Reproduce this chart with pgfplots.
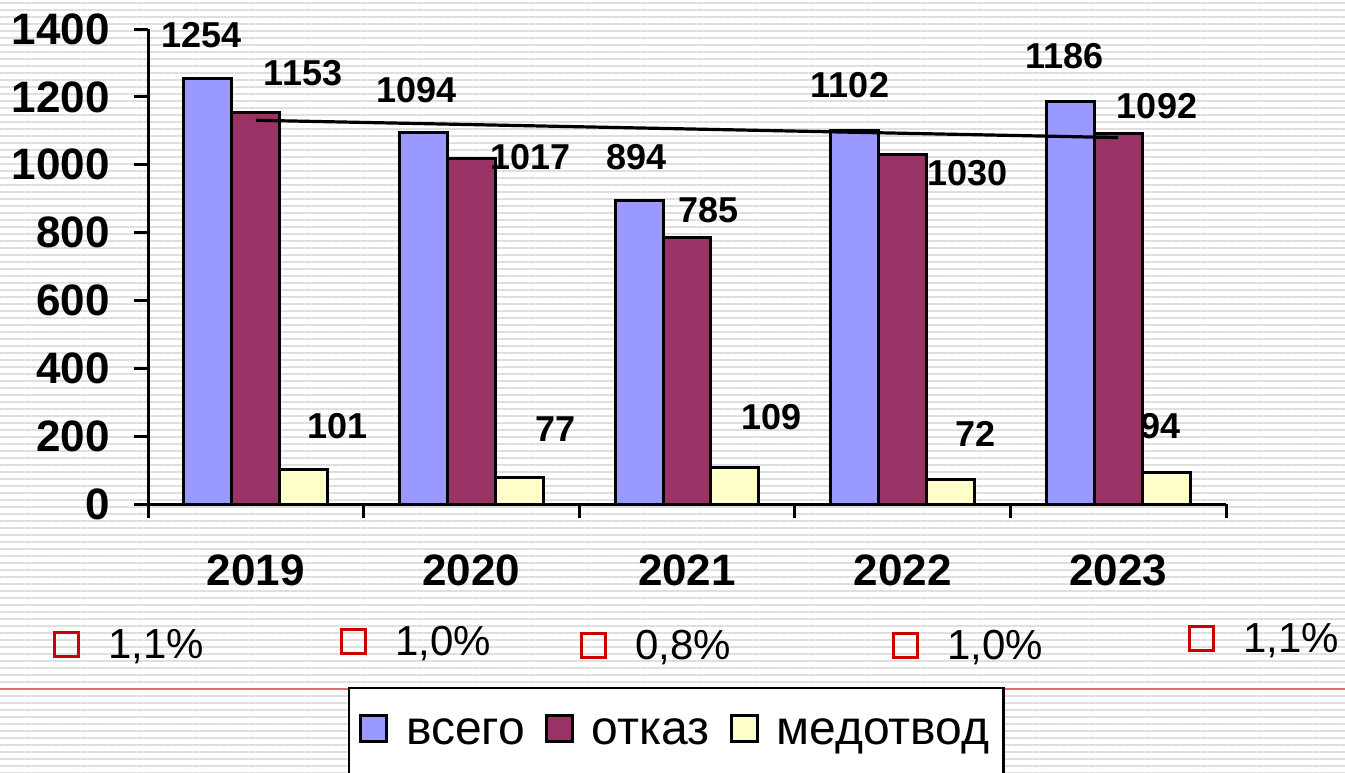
\documentclass[border=0pt]{standalone}
\usepackage{fontspec}
\setmainfont{Liberation Sans}
\usepackage{pgfplots}
\usepackage{pgfplotstable}
\pgfplotsset{compat=1.18}
\usetikzlibrary{patterns.meta}
\definecolor{cblue}{RGB}{153,153,255}
\definecolor{cmaroon}{RGB}{153,51,102}
\definecolor{cyellow}{RGB}{255,255,204}
\definecolor{cred}{RGB}{204,0,0}
\definecolor{stripe}{RGB}{222,222,222}
\definecolor{redline}{RGB}{224,110,110}
\newcommand{\redsq}{\raisebox{1.4bp}{\color{cred}\setlength{\fboxrule}{1.4bp}\setlength{\fboxsep}{0pt}\fbox{\rule{0pt}{10.6bp}\rule{10.6bp}{0pt}}}}
\newcommand{\pct}[1]{\redsq\hspace{14bp}#1}

\pgfplotstableread{
x vsego otkaz medotvod
0 1254 1153 101
1 1094 1017 77
2 894 785 109
3 1102 1030 72
4 1186 1092 94
}\bars

\pgfplotstableread{
x y lab
-0.250 1382 1254
0.745 1220 1094
1.764 1021 894
2.756 1235 1102
3.751 1320 1186
}\labA

\pgfplotstableread{
x y lab
0.219 1270 1153
1.276 1021 1017
2.102 865 785
3.303 974 1030
4.180 1173 1092
}\labB

\pgfplotstableread{
x y lab
0.377 230 101
1.388 221 77
2.394 255 109
3.340 206 72
4.198 230 94
}\labC

\pgfplotsset{
  vallab/.style={only marks, mark=*, mark size=0pt, draw=none, fill=none, forget plot,
    nodes near coords, point meta=explicit symbolic,
    nodes near coords style={anchor=center, inner sep=0pt, text=black,
      font=\bfseries\fontsize{18bp}{18bp}\selectfont}},
  sqleg/.style={legend image code/.code={\draw[##1] (0bp,-4.5bp) rectangle (13bp,8.5bp);}},
}

\begin{document}
\begin{tikzpicture}
\path[use as bounding box] (0,0) rectangle (672.5bp,-386.5bp);
\fill[white] (0,0) rectangle (672.5bp,-386.5bp);
\fill[pattern={Lines[angle=0,distance=3.5bp,line width=1bp]}, pattern color=stripe] (0,0) rectangle (672.5bp,-386.5bp);
\draw[redline, line width=0.7bp] (0,-344.5bp) -- (672.5bp,-344.5bp);

\begin{scope}[every node/.style={inner sep=0pt, anchor=base west, font=\fontsize{21bp}{21bp}\selectfont}]
\node at (26.5bp,-329bp) {\pct{1,1\%}};
\node at (170bp,-327.5bp) {\pct{1,0\%}};
\node at (290bp,-329.5bp) {\pct{0,8\%}};
\node at (446bp,-329.5bp) {\pct{1,0\%}};
\node at (594bp,-326bp) {\pct{1,1\%}};
\end{scope}

\begin{axis}[
  at={(74bp,-252bp)}, anchor=south west,
  scale only axis, width=539bp, height=237.5bp,
  xmin=-0.5, xmax=4.5, ymin=0, ymax=1400,
  clip=false,
  axis x line=bottom, axis y line=left,
  axis line style={-, line width=1.5bp, black},
  xtick={-0.5,0.5,1.5,2.5,3.5,4.5}, xticklabels={},
  extra x ticks={0,1,2,3,4},
  extra x tick labels={2019,2020,2021,2022,2023},
  extra x tick style={major tick length=0pt,
     tick label style={anchor=center, inner sep=0pt, yshift=-33bp}},
  ytick={0,200,...,1400},
  tick align=outside, major tick length=7bp,
  tick style={line width=1.5bp, black},
  /pgf/number format/assume math mode=true,
  /pgf/number format/1000 sep={},
  ticklabel style={font=\bfseries\fontsize{22bp}{22bp}\selectfont},
  yticklabel style={anchor=east, inner sep=0pt, xshift=-12bp},
  legend columns=3,
  legend style={at={(axis description cs:0.1855,-0.3853)}, anchor=north west,
     draw=black, line width=1.1bp, fill=white, inner xsep=5bp, inner ysep=13bp,
     font=\fontsize{24bp}{24bp}\selectfont,
     /tikz/every odd column/.append style={column sep=7bp},
     /tikz/every even column/.append style={column sep=8bp}},
]
\addplot[ybar, bar width=0.2226, bar shift=-0.2226, fill=cblue, draw=black, line width=1.5bp, sqleg] table[x=x,y=vsego]{\bars};
\addlegendentry{всего}
\addplot[ybar, bar width=0.2226, bar shift=0, fill=cmaroon, draw=black, line width=1.5bp, sqleg] table[x=x,y=otkaz]{\bars};
\addlegendentry{отказ}
\addplot[ybar, bar width=0.2226, bar shift=0.2226, fill=cyellow, draw=black, line width=1.5bp, sqleg] table[x=x,y=medotvod]{\bars};
\addlegendentry{медотвод}
\addplot[black, line width=1.6bp, mark=none, forget plot] coordinates {(0,1131) (4,1080)};
\addplot[vallab] table[x=x,y=y,meta=lab]{\labA};
\addplot[vallab] table[x=x,y=y,meta=lab]{\labB};
\addplot[vallab] table[x=x,y=y,meta=lab]{\labC};
\end{axis}
\end{tikzpicture}
\end{document}
